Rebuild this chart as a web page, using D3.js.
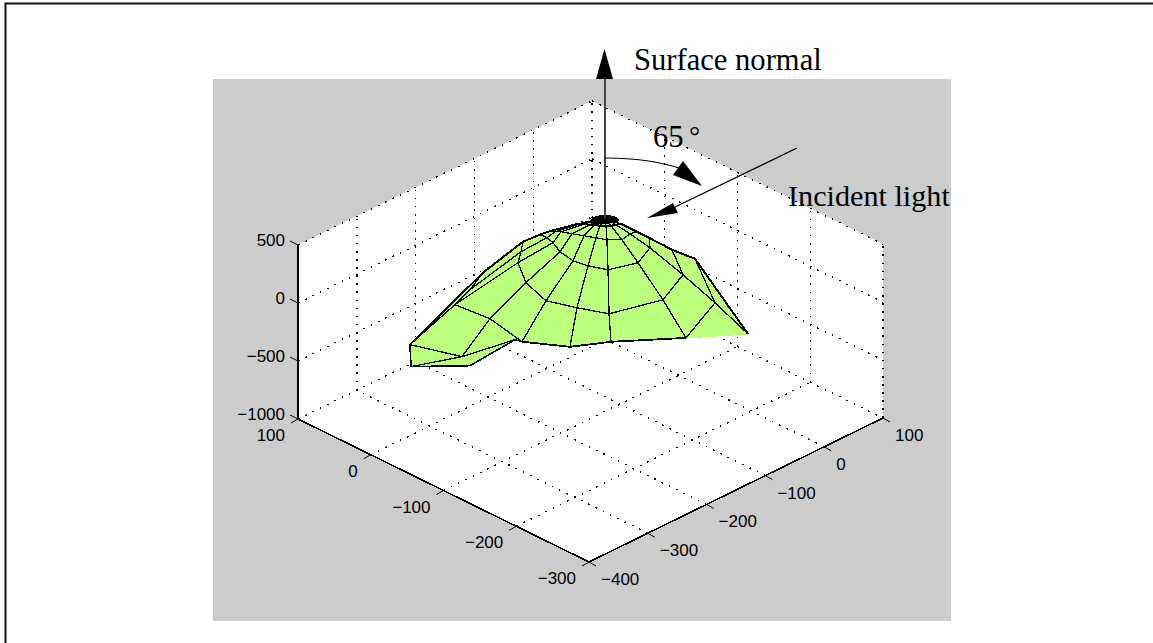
<!DOCTYPE html>
<html><head><meta charset="utf-8">
<script src="https://cdn.jsdelivr.net/npm/d3@7"></script>
<style>html,body{margin:0;padding:0;background:#fff}svg{display:block}</style></head>
<body><div id="chart"></div>
<script>
const uTicks=[100,0,-100,-200,-300];
const vTicks=[-400,-300,-200,-100,0,100];
const zTicks=[-1000,-500,0,500];
// polar mesh: rows = rings (inner to outer), columns = spokes (left to right)
const ringZ=[400,380,250,0,-300,-600];
const meshU=[
 [-56.3,-56.3,-56.3,-56.3,-56.3,-56.3,-56.3,-56.3,-56.3,-56.3],
 [-42.9,-44.9,-47.8,-52.6,-56,-60.8,-65,-68.4,-70.4,-72.5],
 [-12.3,-17.1,-21.2,-31.6,-42.7,-53.7,-64.1,-74.4,-71.5,-73.5],
 [29.6,20.6,9.5,-8,-29.5,-46.9,-66.2,-77,-64.2,-49.5],
 [80.3,67.6,54.3,20.8,-18.3,-49.3,-79.8,-97.2,-76,-33.3],
 [113.1,98.2,87.5,43.8,-10.4,-50.5,-71.6,-117.6,-88.3,-12.9]];
const meshV=[
 [-71.3,-71.3,-71.3,-71.3,-71.3,-71.3,-71.3,-71.3,-71.3,-71.3],
 [-100.6,-98,-94.7,-92.2,-87.9,-85.4,-80.3,-76,-70,-64.1],
 [-113.8,-107.8,-102.7,-96.9,-90.1,-83.4,-77.6,-64.8,-47.5,-38.1],
 [-75.5,-74.7,-78.3,-88,-92.5,-88.5,-78.4,-40.7,-4.5,12],
 [-41.7,-60.8,-82.4,-110.3,-124.6,-110.3,-93.5,-23.3,37.1,71.1],
 [-69.1,-109.7,-148.5,-143,-155.7,-123.6,-80,-9.4,76.2,135.5]];
// rim vertices at z = -800
const rimZ=-800;
const rimLeft=[94.9,-215.9], rimMid=[42.3,-192.5], rimLow=[63.3,-253.2], rimLowEnd=[24.2,-201.3], rimNotch=[29.7,-118], rimRight=[-122,90.6];
// dark crown round the apex at z = 400
const crownU=[-50.2,-47.3,-52.1,-59.6,-69.4,-71.5,-64.7,-55.7];
const crownV=[-92.7,-75.4,-66.1,-60.1,-62,-69.7,-81.6,-92.7];
const notes=["Surface normal","65","°","Incident light"];

const W=1153,H=643,GRAY="#cccccc",GREEN="#bbff7c";
const uX=d3.scaleLinear().domain([-300,100]).range([0,-291]);
const uY=d3.scaleLinear().domain([-300,100]).range([0,-143]);
const vX=d3.scaleLinear().domain([-400,100]).range([0,294]);
const vY=d3.scaleLinear().domain([-400,100]).range([0,-144]);
const zY=d3.scaleLinear().domain([-1000,500]).range([0,-174]);
const P=(u,v,z)=>[589+uX(u)+vX(v),562+uY(u)+vY(v)+zY(z)];
const line=d3.line();
const svg=d3.select("#chart").append("svg").attr("width",W).attr("height",H);

// page frame
svg.append("path").attr("d","M5.5,643V3.5H1153").attr("fill","none").attr("stroke","#111").attr("stroke-width",2);
svg.append("rect").attr("x",213).attr("y",79).attr("width",738).attr("height",542).attr("fill",GRAY);

// box
const zTop=500,zBot=-1000;
svg.append("path").attr("d",line([P(100,-400,zBot),P(100,-400,zTop),P(100,100,zTop),P(-300,100,zTop),P(-300,100,zBot),P(-300,-400,zBot)])+"Z").attr("fill","#fff");
const grid=svg.append("g").attr("fill","none").attr("stroke","#000").attr("stroke-width",1.4)
  .attr("stroke-dasharray","1.6 6.5").attr("shape-rendering","crispEdges");
const seg=(a,b)=>grid.append("path").attr("d",line([a,b]));
zTicks.forEach(z=>{seg(P(100,-400,z),P(100,100,z));seg(P(100,100,z),P(-300,100,z));});
vTicks.forEach(v=>{
  if(v>-400&&v<100) seg(P(-300,v,zBot),P(100,v,zBot));
  if(v>-400) seg(P(100,v,zBot),P(100,v,zTop));
});
uTicks.forEach(u=>{
  if(u<100&&u>-300) seg(P(u,-400,zBot),P(u,100,zBot));
  if(u>-300) seg(P(u,100,zBot),P(u,100,zTop));
});
seg(P(-300,100,zBot),P(-300,100,zTop));

// axes
const axis=svg.append("g").attr("fill","none").attr("stroke","#000").attr("stroke-width",1.6);
axis.append("path").attr("d",line([P(100,-400,zTop),P(100,-400,zBot),P(-300,-400,zBot),P(-300,100,zBot)])).attr("shape-rendering","crispEdges");
const labels=svg.append("g").attr("font-family","'Liberation Sans',Arial,sans-serif").attr("font-size",17).attr("fill","#000");
const fmt=d3.format("d");
zTicks.forEach(z=>{
  const p=P(100,-400,z);
  axis.append("path").attr("stroke-width",1).attr("d",line([p,[p[0]-8,p[1]-4]]));
  labels.append("text").attr("x",p[0]-13).attr("y",p[1]+1).attr("text-anchor","end").text(fmt(z));
});
uTicks.forEach(u=>{
  const p=P(u,-400,zBot);
  axis.append("path").attr("stroke-width",1).attr("d",line([p,[p[0]-7,p[1]+4]]));
  labels.append("text").attr("x",p[0]-13).attr("y",p[1]+22).attr("text-anchor","end").text(fmt(u));
});
vTicks.forEach(v=>{
  const p=P(-300,v,zBot);
  axis.append("path").attr("stroke-width",1).attr("d",line([p,[p[0]+7,p[1]+4]]));
  labels.append("text").attr("x",p[0]+12).attr("y",p[1]+23).attr("text-anchor","start").text(fmt(v));
});

// surface
const V=(j,i)=>P(meshU[j][i],meshV[j][i],ringZ[j]);
const R=(r)=>P(r[0],r[1],rimZ);
const surf=svg.append("g").attr("stroke","#000").attr("stroke-width",1.3).attr("stroke-linejoin","round").attr("shape-rendering","crispEdges");
const poly=(pts,fill,stroke)=>surf.append("path").attr("d",line(pts)+"Z").attr("fill",fill).attr("stroke",stroke);
const nS=meshU[0].length, C=6, L4=2, L3=3, L2=4, R1=7, R2=8, R3=9;
poly([R(rimLow),R(rimLowEnd),R(rimNotch),R(rimMid),R(rimLeft)],GREEN,GREEN);
poly([V(5,L4),V(5,L3),R(rimMid),R(rimLeft)],GREEN,"#000");
poly([V(5,0),V(5,1),V(5,L4),R(rimLeft)],GREEN,"#000");
poly([V(5,L3),V(5,L2),R(rimNotch),R(rimMid)],GREEN,"#000");
poly([V(5,R1),V(5,R2),R(rimRight)],GREEN,GREEN);
poly([V(5,R2),V(5,R3),R(rimRight)],GREEN,GREEN);
surf.append("path").attr("fill","none").attr("d",line([V(5,R1),V(5,R2),V(5,R3),R(rimRight),V(5,R2)]));
const order=d3.range(nS-1).sort((a,b)=>Math.abs(b+0.5-C)-Math.abs(a+0.5-C));
for(let j=ringZ.length-2;j>=0;j--){
  order.forEach(i=>poly([V(j,i),V(j,i+1),V(j+1,i+1),V(j+1,i)],GREEN,"#000"));
}
// rim outline
surf.append("path").attr("fill","none").attr("stroke-width",1.6).attr("d",line([R(rimLeft),R(rimLow),R(rimLowEnd),R(rimNotch)]));
surf.append("path").attr("fill","none").attr("d",line([R(rimLow),R(rimMid),R(rimNotch)]));
surf.append("path").attr("fill","none").attr("stroke-width",2).attr("d",line(d3.range(1,6).map(j=>V(j,0)).concat([R(rimLeft)])));
surf.append("path").attr("fill","none").attr("stroke-width",2).attr("d",line(d3.range(1,6).map(j=>V(j,R3)).concat([R(rimRight)])));
surf.append("path").attr("fill","none").attr("stroke-width",1.8).attr("d",line(d3.range(L2,R1+1).map(i=>V(5,i))));
surf.append("path").attr("fill","none").attr("stroke-width",2).attr("d",line(d3.range(0,nS).map(i=>V(1,i))));
surf.append("path").attr("d",line(crownU.map((u,i)=>P(u,crownV[i],ringZ[0])))+"Z").attr("fill","#000").attr("stroke","none");

// annotations
const ann=svg.append("g");
ann.append("line").attr("x1",605).attr("y1",218).attr("x2",605).attr("y2",75).attr("stroke","#444").attr("stroke-width",2);
ann.append("path").attr("d","M604.5,49L596,79H613Z").attr("fill","#000");
ann.append("path").attr("d","M605,158Q650,158 682,169").attr("fill","none").attr("stroke","#000").attr("stroke-width",1.2);
ann.append("path").attr("d","M702,186L683,161L673,175Z").attr("fill","#000");
ann.append("line").attr("x1",797).attr("y1",148).attr("x2",675).attr("y2",207).attr("stroke","#000").attr("stroke-width",1.3);
ann.append("path").attr("d","M647,218L673,203L678,213Z").attr("fill","#000");
const t=svg.append("g").attr("font-family","'Liberation Serif','Times New Roman',serif").attr("font-size",30.6).attr("fill","#000");
t.append("text").attr("x",634).attr("y",70).text(notes[0]);
t.append("text").attr("x",653).attr("y",147).text(notes[1]);
t.append("text").attr("x",689).attr("y",145).attr("font-size",28).text(notes[2]);
t.append("text").attr("x",788).attr("y",206).attr("font-size",30.2).text(notes[3]);
</script></body></html>
